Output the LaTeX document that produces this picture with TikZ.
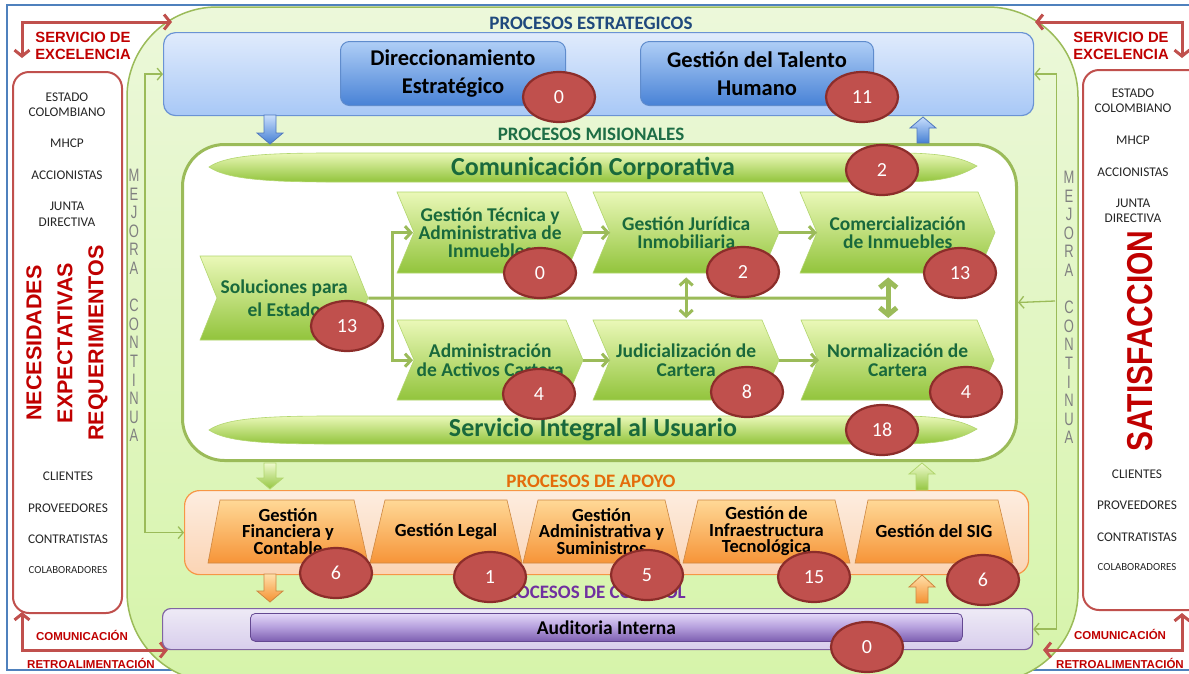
\documentclass[tikz,border=0pt]{standalone}
\usepackage{fontspec}
\usepackage{graphicx}
\setmainfont{Carlito}
\newfontfamily\arialf{Liberation Sans}
\usetikzlibrary{shapes.geometric,arrows.meta,calc}
\definecolor{frameblue}{RGB}{79,129,189}
\definecolor{bigTop}{RGB}{236,248,218}
\definecolor{bigBot}{RGB}{214,244,170}
\definecolor{gborder}{RGB}{155,187,89}
\definecolor{redline}{RGB}{192,80,77}
\definecolor{redtext}{RGB}{192,0,0}
\definecolor{dkblue}{RGB}{31,73,125}
\definecolor{dkgreen}{RGB}{25,105,60}
\definecolor{misgreen}{RGB}{30,110,70}
\definecolor{orangetxt}{RGB}{228,108,10}
\definecolor{purpletxt}{RGB}{112,48,160}
\definecolor{badgefill}{RGB}{192,80,77}
\definecolor{badgeline}{RGB}{140,45,42}
\definecolor{mejgray}{RGB}{128,128,128}
\definecolor{stratline}{RGB}{106,147,212}
\definecolor{stratTop}{RGB}{224,235,252}
\definecolor{stratBot}{RGB}{168,200,246}
\definecolor{btnline}{RGB}{95,140,205}
\definecolor{btnTop}{RGB}{175,206,246}
\definecolor{btnBot}{RGB}{72,130,214}
\definecolor{chevTop}{RGB}{234,248,184}
\definecolor{chevBot}{RGB}{146,196,60}
\definecolor{chevLine}{RGB}{178,214,110}
\definecolor{apoyoLine}{RGB}{247,150,70}
\definecolor{apoyoTop}{RGB}{253,237,224}
\definecolor{apoyoBot}{RGB}{251,212,180}
\definecolor{trapTop}{RGB}{255,216,150}
\definecolor{trapBot}{RGB}{246,148,56}
\definecolor{trapLine}{RGB}{205,135,65}
\definecolor{ctrlLine}{RGB}{128,100,162}
\definecolor{ctrlTop}{RGB}{238,234,246}
\definecolor{ctrlBot}{RGB}{216,206,236}
\definecolor{audTop}{RGB}{228,216,248}
\definecolor{audMid}{RGB}{180,158,220}
\definecolor{audBot}{RGB}{124,94,176}
\definecolor{audLine}{RGB}{100,72,145}
\definecolor{arrBlueTop}{RGB}{200,222,252}
\definecolor{arrBlueBot}{RGB}{70,128,212}
\definecolor{arrBlueLine}{RGB}{80,120,190}
\definecolor{arrGreenTop}{RGB}{238,250,205}
\definecolor{arrGreenBot}{RGB}{148,198,66}
\definecolor{arrOrTop}{RGB}{255,224,170}
\definecolor{arrOrBot}{RGB}{245,145,50}

\newcommand{\chevshape}[6]{%
  \path[chevfill] (#2,#3) -- ++({#4-17},0) -- ++(17,{#5/2}) -- ++(-17,{#5/2}) -- ++({17-#4},0) -- ++(17,{-#5/2}) -- cycle;
  \node[chevtext, minimum width=#4, minimum height=#5, anchor=north west] (#1) at (#2,#3) {#6};}
\newcommand{\trapz}[6]{%
  \path[trapfill] (#2,563) -- (#3,500) -- (#4,500) -- (#5,563) -- cycle;
  \node[traptext] (#1) at ({(#2+#5)/2},531.5) {#6};}
\newcommand{\blockarr}[5]{%
  \path[#1] ({#2-6},#3) -- ({#2-6},#4) -- ({#2-13},#4) -- (#2,#5) -- ({#2+13},#4) -- ({#2+6},#4) -- ({#2+6},#3) -- cycle;}

\begin{document}
\begin{tikzpicture}[x=1pt,y=-1pt,
  badge/.style={ellipse, draw=badgeline, line width=2.2pt, fill=badgefill, text=white, minimum width=72pt, minimum height=50pt, inner sep=0pt, font=\fontsize{20}{20}\selectfont},
  stratbox/.style={draw=stratline, line width=1.2pt, rounded corners=12pt, top color=stratTop, bottom color=stratBot, inner sep=0pt},
  bluebtn/.style={draw=btnline, line width=1pt, rounded corners=9pt, top color=btnTop, bottom color=btnBot, inner sep=0pt, align=center, font=\bfseries\fontsize{22.5}{28}\selectfont},
  misbox/.style={draw=gborder, line width=3pt, fill=white, rounded corners=42pt, inner sep=0pt},
  apoyobox/.style={draw=apoyoLine, line width=1.2pt, top color=apoyoTop, bottom color=apoyoBot, rounded corners=15pt, inner sep=0pt},
  ctrlbox/.style={draw=ctrlLine, line width=1.2pt, top color=ctrlTop, bottom color=ctrlBot, rounded corners=8pt, inner sep=0pt},
  audbar/.style={draw=audLine, line width=0.8pt, top color=audTop, bottom color=audBot, middle color=audMid, rounded corners=5pt, inner sep=0pt, font=\bfseries\fontsize{19.5}{20}\selectfont},
  chevfill/.style={draw=chevLine, line width=0.6pt, top color=chevTop, bottom color=chevBot},
  chevtext/.style={inner sep=0pt, align=center, text=dkgreen, font=\bfseries\fontsize{19.5}{18.3}\selectfont},
  trapfill/.style={draw=trapLine, line width=0.6pt, top color=trapTop, bottom color=trapBot},
  traptext/.style={inner sep=0pt, align=center, font=\bfseries\fontsize{18.5}{16.5}\selectfont},
  lensfill/.style={draw=chevLine, line width=0.6pt, top color=chevTop, bottom color=chevBot},
  lenstext/.style={inner sep=0pt, text=dkgreen, font=\bfseries\fontsize{26}{26}\selectfont},
  titletxt/.style={inner sep=0pt, font=\bfseries\fontsize{19}{19}\selectfont},
  gline/.style={draw=gborder, line width=3pt, >={Straight Barb[length=6pt,width=13pt]}},
  gthick/.style={draw=gborder, line width=5pt, >={Straight Barb[length=7pt,width=17pt]}},
  loopline/.style={draw=gborder, line width=1.3pt, >={Straight Barb[length=5pt,width=12pt]}},
  redarr/.style={draw=redline, line width=3pt, >={Straight Barb[length=6pt,width=15pt]}},
  redlbl/.style={inner sep=0pt, align=center, text=redtext, font=\arialf\bfseries\fontsize{14.8}{17}\selectfont},
  redsmall/.style={inner sep=0pt, text=redtext, font=\arialf\bfseries\fontsize{11.5}{12}\selectfont},
  listtxt/.style={inner sep=0pt, align=center, text=black!85, font=\fontsize{13.3}{15.5}\selectfont},
  mejora/.style={inner sep=0pt, text=mejgray, font=\arialf\fontsize{18}{18.6}\selectfont},
  bluearr/.style={draw=arrBlueLine, line width=0.8pt, top color=arrBlueTop, bottom color=arrBlueBot},
  greenarr/.style={draw=chevLine, line width=0.8pt, top color=arrGreenTop, bottom color=arrGreenBot},
  orarr/.style={draw=trapLine, line width=0.8pt, top color=arrOrTop, bottom color=arrOrBot}
]
\clip (0,0) rectangle (1189,673);
\useasboundingbox (0,0) rectangle (1189,673);
\fill[white] (0,0) rectangle (1189,673);
\draw[frameblue, line width=1.5pt] (7,5) rectangle (1196,670);

% big green area
\path[draw=gborder, line width=1.5pt, top color=bigTop, bottom color=bigBot, rounded corners=90pt] (127,7) rectangle (1078,682);

% side panels
\draw[redline, line width=2pt, fill=white, rounded corners=16pt] (13,72) rectangle (122,613);
\draw[redline, line width=2pt, fill=white, rounded corners=16pt] (1083,70) rectangle (1205,610);

% red arrows
\coordinate (tlA) at (22,58); \coordinate (tlB) at (172,22);
\coordinate (trA) at (1182,58); \coordinate (trB) at (1035,22);
\coordinate (blA) at (22,612); \coordinate (blB) at (168,650);
\coordinate (brA) at (1182,613); \coordinate (brB) at (1043,650);
\draw[redarr,<->] (tlA) |- (tlB);
\draw[redarr,<->] (trA) |- (trB);
\draw[redarr,<->] (blA) |- (blB);
\draw[redarr,<->] (brA) |- (brB);
\node[redlbl] (servL) at (83,45.5) {SERVICIO DE\\EXCELENCIA};
\node[redlbl] (servR) at (1121,45.5) {SERVICIO DE\\EXCELENCIA};
\node[redsmall] (comL) at (82,635) {COMUNICACIÓN};
\node[redsmall] (retL) at (91,663) {RETROALIMENTACIÓN};
\node[redsmall] (comR) at (1120,634) {COMUNICACIÓN};
\node[redsmall] (retR) at (1120,663) {RETROALIMENTACIÓN};

% panel texts left
\node[listtxt] (l1) at (67,104.5) {ESTADO\\COLOMBIANO};
\node[listtxt] (l2) at (67,143) {MHCP};
\node[listtxt] (l3) at (67,175) {ACCIONISTAS};
\node[listtxt] (l4) at (67,214.5) {JUNTA\\DIRECTIVA};
\node[listtxt] (l5) at (68,476) {CLIENTES};
\node[listtxt] (l6) at (68,508) {PROVEEDORES};
\node[listtxt] (l7) at (68,539) {CONTRATISTAS};
\node[listtxt, font=\fontsize{10.8}{12}\selectfont] (l8) at (68,570) {COLABORADORES};
\node[rotate=90, inner sep=0pt, align=center, text=redtext, font=\arialf\bfseries\fontsize{21.5}{31}\selectfont] (needs) at (67,343) {NECESIDADES\\EXPECTATIVAS\\REQUERIMIENTOS};
% panel texts right
\node[listtxt] (r1) at (1133,100.5) {ESTADO\\COLOMBIANO};
\node[listtxt] (r2) at (1133,140) {MHCP};
\node[listtxt] (r3) at (1133,172) {ACCIONISTAS};
\node[listtxt] (r4) at (1133,211) {JUNTA\\DIRECTIVA};
\node[listtxt] (r5) at (1137,474) {CLIENTES};
\node[listtxt] (r6) at (1137,505) {PROVEEDORES};
\node[listtxt] (r7) at (1137,537) {CONTRATISTAS};
\node[listtxt, font=\fontsize{10.8}{12}\selectfont] (r8) at (1137,567) {COLABORADORES};
\node[rotate=90, inner sep=0pt, text=redtext, font=\arialf\bfseries\fontsize{30}{30}\selectfont] (satis) at (1140,341) {\scalebox{1}[1.2]{SATISFACCION}};

% mejora continua
\node[mejora] (mejL) at (134,308) {\scalebox{0.72}[1]{\begin{tabular}{@{}c@{}}M\\E\\J\\O\\R\\A\\ \\C\\O\\N\\T\\I\\N\\U\\A\end{tabular}}};
\node[mejora] (mejR) at (1069,310) {\scalebox{0.72}[1]{\begin{tabular}{@{}c@{}}M\\E\\J\\O\\R\\A\\ \\C\\O\\N\\T\\I\\N\\U\\A\end{tabular}}};

% main boxes
\node[stratbox, minimum width=870pt, minimum height=83pt, anchor=north west] (strat) at (163,32) {};
\node[misbox, minimum width=834pt, minimum height=316pt, anchor=north west] (mis) at (181,143) {};
\node[apoyobox, minimum width=844pt, minimum height=84pt, anchor=north west] (apoyo) at (184,490) {};
\node[ctrlbox, minimum width=870pt, minimum height=41pt, anchor=north west] (ctrl) at (162,608) {};

% mejora continua loops
\coordinate (rl) at (1055,301);
\draw[loopline,<->] (strat.west) -- ++(-18,0) |- (apoyo.west);
\draw[loopline,<->] (strat.east) -- ++(22,0) |- (ctrl.east);
\draw[loopline,->] (rl) -- (mis.east);

% titles
\node[titletxt, text=dkblue] (tstrat) at (591,23.5) {PROCESOS ESTRATEGICOS};
\node[titletxt, text=misgreen] (tmis) at (591,134) {PROCESOS MISIONALES};
\node[titletxt, text=orangetxt] (tapoyo) at (591,481) {PROCESOS DE APOYO};
\node[titletxt, text=purpletxt] (tctrl) at (591,592) {PROCESOS DE CONTROL};

% strategic buttons
\node[bluebtn, minimum width=225pt, minimum height=64pt, anchor=north west] (dir) at (340,41) {Direccionamiento\\Estratégico};
\node[bluebtn, minimum width=233pt, minimum height=64pt, anchor=north west] (tal) at (640,41) {Gestión del Talento\\Humano};

% block arrows
\blockarr{bluearr}{270}{115}{133}{144}
\blockarr{bluearr}{923}{143}{128}{117}
\blockarr{greenarr}{270}{463}{478}{489}
\blockarr{greenarr}{922}{490}{474}{463}
\blockarr{orarr}{270}{574}{591}{602}
\blockarr{orarr}{922}{603}{587}{575}

% lenses
\path[lensfill] (209,167) .. controls (225,156) and (260,153) .. (330,153) -- (900,153) .. controls (950,153) and (965,160) .. (977,166) .. controls (965,173) and (950,182) .. (900,182) -- (330,182) .. controls (260,182) and (225,178) .. (209,167) -- cycle;
\node[lenstext] (comcorp) at (593,168) {Comunicación Corporativa};
\path[lensfill] (209,430) .. controls (225,419) and (260,416) .. (330,416) -- (900,416) .. controls (950,416) and (965,423) .. (977,429) .. controls (965,436) and (950,444) .. (900,444) -- (330,444) .. controls (260,444) and (225,441) .. (209,430) -- cycle;
\node[lenstext] (servint) at (593,430) {Servicio Integral al Usuario};

% chevrons
\chevshape{sol}{200}{256}{168}{84}{Soluciones para\\[4.7pt]el Estado}
\chevshape{gt}{397}{192}{186}{81}{Gestión Técnica y\\Administrativa de\\Inmuebles}
\chevshape{gj}{593}{192}{186}{81}{Gestión Jurídica\\Inmobiliaria}
\chevshape{cm}{800}{192}{195}{81}{Comercialización\\de Inmuebles}
\chevshape{ac}{397}{320}{186}{80}{Administración\\de Activos Cartera}
\chevshape{jc}{593}{320}{186}{80}{Judicialización de\\Cartera}
\chevshape{nc}{801}{320}{193}{80}{Normalización de\\Cartera}

% chevron connectors
\coordinate (vx) at (392,298);
\coordinate (hend) at (888,298);
\draw[gline] (sol.east) -- (hend);
\draw[gline,<->] ([xshift=16pt]gt.west) -| (vx) |- ([xshift=16pt]ac.west);
\draw[gline,->] (gt.east) -- ([xshift=17pt]gj.west);
\draw[gline,->] (gj.east) -- ([xshift=17pt]cm.west);
\draw[gline,->] (ac.east) -- ([xshift=17pt]jc.west);
\draw[gline,->] (jc.east) -- ([xshift=18pt]nc.west);
\draw[gline,<->] ([yshift=-4pt]gj.south) -- ([yshift=2pt]jc.north);
\draw[gthick,<->] ([xshift=-9.5pt,yshift=-4pt]cm.south) -- ([xshift=-9.5pt,yshift=2pt]nc.north);

% support trapezoids
\trapz{fin}{208}{220}{354}{368}{Gestión\\Financiera y\\Contable}
\trapz{leg}{370}{385}{507}{522}{Gestión Legal}
\trapz{adm}{523}{538}{665}{680}{Gestión\\Administrativa y\\Suministros}
\trapz{inf}{683}{698}{835}{850}{Gestión de\\Infraestructura\\Tecnológica}
\trapz{sig}{855}{868}{998}{1013}{Gestión del SIG}

% control
\node[audbar, minimum width=712pt, minimum height=28pt, anchor=north west] (aud) at (250,613) {Auditoria Interna};

% badges
\node[badge] (bdir) at (559,97) {0};
\node[badge] (btal) at (862,97) {11};
\node[badge] (bcom) at (882,170) {2};
\node[badge] (bgt) at (540,273) {0};
\node[badge] (bgj) at (743,272) {2};
\node[badge] (bcm) at (960,273) {13};
\node[badge] (bsol) at (347,326) {13};
\node[badge] (bac) at (539,394) {4};
\node[badge] (bjc) at (747,392) {8};
\node[badge] (bnc) at (966,392) {4};
\node[badge] (bsv) at (882,430) {18};
\node[badge] (bfin) at (336,573) {6};
\node[badge] (bleg) at (490,577) {1};
\node[badge] (badm) at (647,575) {5};
\node[badge] (binf) at (814,577) {15};
\node[badge] (bsig) at (983,580) {6};
\node[badge] (baud) at (867,647) {0};
\end{tikzpicture}
\end{document}
